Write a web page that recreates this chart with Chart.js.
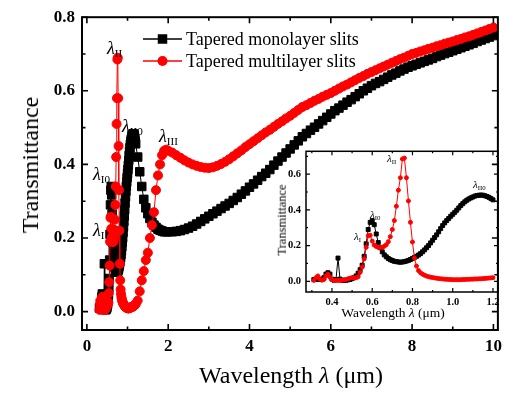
<!DOCTYPE html>
<html lang="en">
<head>
<meta charset="UTF-8">
<title>Transmittance of tapered slits</title>
<script src="https://cdn.jsdelivr.net/npm/chart.js"></script>
<style>
  html, body { margin: 0; padding: 0; background: #fff; }
  #wrap { position: relative; width: 508px; height: 394px; overflow: hidden; font-family: "Liberation Serif", "Times New Roman", serif; color: #000; }
  canvas { position: absolute; }
  #main { left: 0; top: 0; }
  #inset { left: 270px; top: 140px; }
  .t { position: absolute; white-space: nowrap; line-height: 1; }
  .rot { transform: translate(-50%, -50%) rotate(-90deg); }
  .lab { position: absolute; white-space: nowrap; line-height: 1; font-size: 18px; }
  .lab i { font-style: italic; }
  .lab .s { font-size: 0.62em; vertical-align: -0.25em; }
  .small { font-size: 11px; }
</style>
</head>
<body>
<div id="wrap">
  <canvas id="main" width="508" height="394"></canvas>
  <canvas id="inset" width="238" height="185"></canvas>

  <div class="t rot" style="left:30px;top:165px;font-size:24px;">Transmittance</div>
  <div class="t" style="left:291px;top:363px;font-size:24px;transform:translateX(-50%);">Wavelength <i>λ</i> (μm)</div>
  <div class="t rot" style="left:282px;top:220px;font-size:12.5px;">Transmittance</div>
  <div class="t" style="left:393px;top:306px;font-size:13.5px;transform:translateX(-50%);">Wavelength <i>λ</i> (μm)</div>

  <!-- peak labels, main plot -->
  <div class="lab" style="left:107px;top:39px;"><i>λ</i><span class="s">II</span></div>
  <div class="lab" style="left:122px;top:117px;"><i>λ</i><span class="s">II0</span></div>
  <div class="lab" style="left:159px;top:127px;"><i>λ</i><span class="s">III</span></div>
  <div class="lab" style="left:93px;top:165px;"><i>λ</i><span class="s">I0</span></div>
  <div class="lab" style="left:93px;top:221px;"><i>λ</i><span class="s">I</span></div>

  <!-- peak labels, inset -->
  <div class="lab small" style="left:387px;top:153px;"><i>λ</i><span class="s">II</span></div>
  <div class="lab small" style="left:370px;top:209px;"><i>λ</i><span class="s">I0</span></div>
  <div class="lab small" style="left:354px;top:231px;"><i>λ</i><span class="s">I</span></div>
  <div class="lab small" style="left:473px;top:179px;"><i>λ</i><span class="s">II0</span></div>
</div>

<script>
// wavelength grid (um)
const wavelength = [
  0.31, 0.32, 0.33, 0.34, 0.35, 0.36, 0.37, 0.38, 0.39, 0.40,
  0.41, 0.42, 0.43, 0.44, 0.45, 0.46, 0.47, 0.48, 0.49, 0.50,
  0.51, 0.52, 0.53, 0.54, 0.55, 0.56, 0.57, 0.58, 0.59, 0.60,
  0.61, 0.62, 0.63, 0.64, 0.65, 0.66, 0.67, 0.68, 0.69, 0.70,
  0.71, 0.72, 0.73, 0.74, 0.75, 0.76, 0.77, 0.78, 0.79, 0.80,
  0.81, 0.82, 0.83, 0.84, 0.85, 0.86, 0.87, 0.88, 0.89, 0.90,
  0.91, 0.92, 0.93, 0.94, 0.95, 0.96, 0.97, 0.98, 0.99, 1.00,
  1.01, 1.02, 1.03, 1.04, 1.05, 1.06, 1.07, 1.08, 1.09, 1.10,
  1.11, 1.12, 1.13, 1.14, 1.15, 1.16, 1.17, 1.18, 1.19, 1.20,
  1.25, 1.30, 1.35, 1.40, 1.45, 1.50, 1.55, 1.60,
  1.65, 1.70, 1.75, 1.80, 1.85, 1.90, 1.95, 2.00,
  2.1, 2.2, 2.3, 2.4, 2.5, 2.6, 2.7, 2.8, 2.9, 3.0,
  3.1, 3.2, 3.3, 3.4, 3.5, 3.6, 3.7, 3.8, 3.9, 4.0,
  4.1, 4.2, 4.3, 4.4, 4.5, 4.6, 4.7, 4.8, 4.9, 5.0,
  5.1, 5.2, 5.3, 5.4, 5.5, 5.6, 5.7, 5.8, 5.9, 6.0,
  6.1, 6.2, 6.3, 6.4, 6.5, 6.6, 6.7, 6.8, 6.9, 7.0,
  7.1, 7.2, 7.3, 7.4, 7.5, 7.6, 7.7, 7.8, 7.9, 8.0,
  8.1, 8.2, 8.3, 8.4, 8.5, 8.6, 8.7, 8.8, 8.9, 9.0,
  9.1, 9.2, 9.3, 9.4, 9.5, 9.6, 9.7, 9.8, 9.9, 10.0
];

// tapered monolayer slits
const monoT = [
  .010, .010, .010, .010, .012, .020, .040, .048, .040, .012,
  .006, .010, .130, .012, .006, .005, .006, .008, .010, .015,
  .020, .030, .045, .065, .090, .140, .210, .290, .330, .340,
  .317, .265, .217, .188, .165, .148, .137, .128, .121, .116,
  .112, .110, .108, .107, .108, .110, .113, .117, .122, .128,
  .134, .140, .147, .155, .165, .176, .188, .200, .215, .230,
  .245, .260, .277, .295, .312, .327, .340, .352, .364, .375,
  .386, .398, .411, .424, .435, .445, .454, .461, .467, .472,
  .477, .480, .482, .483, .482, .479, .475, .470, .463, .456,
  .420, .380, .340, .305, .282, .266, .253, .243,
  .235, .229, .224, .221, .219, .217, .217, .217,
  .217, .218, .220, .223, .227, .232, .238, .245, .252, .259,
  .266, .273, .280, .287, .294, .302, .310, .319, .328, .338,
  .347, .357, .367, .376, .386, .398, .409, .420, .431, .442,
  .453, .464, .475, .484, .493, .501, .510, .519, .528, .537,
  .546, .553, .561, .569, .576, .584, .592, .600, .607, .614,
  .620, .625, .631, .637, .643, .648, .654, .659, .664, .668,
  .672, .676, .680, .684, .688, .693, .697, .701, .705, .709,
  .713, .717, .721, .725, .729, .734, .738, .742, .746, .750
];

// tapered multilayer slits
const multiT = [
  .005, .020, .030, .012, .006, .010, .030, .040, .022, .010,
  .006, .005, .005, .005, .006, .008, .010, .014, .018, .020,
  .020, .020, .025, .050, .080, .125, .190, .255, .258, .225,
  .203, .195, .190, .189, .190, .196, .205, .222, .250, .290,
  .340, .420, .510, .580, .685, .690, .580, .450, .330, .220,
  .130, .085, .060, .048, .040, .034, .029, .026, .023, .021,
  .019, .017, .015, .014, .013, .012, .011, .010, .010, .009,
  .009, .009, .009, .009, .010, .010, .011, .011, .012, .012,
  .013, .013, .014, .014, .015, .016, .017, .018, .019, .020,
  .030, .055, .085, .110, .140, .160, .200, .235,
  .270, .330, .370, .400, .425, .437, .440, .437,
  .432, .425, .418, .411, .405, .400, .396, .393, .391, .390,
  .392, .396, .401, .407, .414, .422, .430, .438, .447, .455,
  .463, .471, .479, .487, .494, .502, .510, .517, .525, .532,
  .540, .548, .556, .561, .567, .573, .578, .584, .589, .594,
  .600, .606, .612, .617, .623, .629, .635, .640, .646, .651,
  .656, .661, .666, .671, .676, .681, .686, .690, .695, .700,
  .703, .707, .710, .714, .717, .721, .724, .728, .731, .734,
  .738, .741, .745, .748, .752, .756, .760, .764, .768, .772
];

const seriesNames = ['Tapered monolayer slits', 'Tapered multilayer slits'];

// main axes ticks
const mainXTicks = [0, 2, 4, 6, 8, 10];
const mainXMinor = [1, 3, 5, 7, 9];
const mainYTicks = [0, 0.2, 0.4, 0.6, 0.8];
const mainYMinor = [0.1, 0.3, 0.5, 0.7];
// inset axes ticks
const insetXTicks = [0.4, 0.6, 0.8, 1.0, 1.2];
const insetXMinor = [0.3, 0.5, 0.7, 0.9, 1.1];
const insetYTicks = [0, 0.2, 0.4, 0.6];
const insetYMinor = [0.1, 0.3, 0.5, 0.7];

const pts = ys => wavelength.map((w, i) => ({ x: w, y: ys[i] }));
const serif = '"Liberation Serif", "Times New Roman", serif';

// box frame with inward ticks on all four sides
const frameTicks = {
  id: 'frameTicks',
  afterDraw(chart, args, o) {
    const { ctx, chartArea: a } = chart;
    const xs = chart.scales.x, ys = chart.scales.y;
    ctx.save();
    ctx.strokeStyle = '#000';
    ctx.lineWidth = o.lineWidth;
    ctx.strokeRect(a.left, a.top, a.right - a.left, a.bottom - a.top);
    ctx.lineWidth = o.tickWidth;
    ctx.beginPath();
    [[o.xMajor, o.major], [o.xMinor, o.minor]].forEach(([vals, len]) => vals.forEach(v => {
      const p = xs.getPixelForValue(v);
      ctx.moveTo(p, a.bottom); ctx.lineTo(p, a.bottom - len);
      ctx.moveTo(p, a.top); ctx.lineTo(p, a.top + len);
    }));
    [[o.yMajor, o.major], [o.yMinor, o.minor]].forEach(([vals, len]) => vals.forEach(v => {
      const p = ys.getPixelForValue(v);
      ctx.moveTo(a.left, p); ctx.lineTo(a.left + len, p);
      ctx.moveTo(a.right, p); ctx.lineTo(a.right - len, p);
    }));
    ctx.stroke();
    ctx.restore();
  }
};

// legend drawn inside the plot area
const insideLegend = {
  id: 'insideLegend',
  afterDraw(chart, args, o) {
    if (!o.rows) return;
    const ctx = chart.ctx;
    ctx.save();
    chart.data.datasets.forEach((ds, i) => {
      const y = o.rows[i];
      const cx = (o.x0 + o.x1) / 2;
      ctx.strokeStyle = ds.borderColor;
      ctx.fillStyle = ds.backgroundColor;
      ctx.lineWidth = 1.5;
      ctx.beginPath();
      ctx.moveTo(o.x0, y); ctx.lineTo(o.x1, y);
      ctx.stroke();
      ctx.beginPath();
      if (ds.pointStyle === 'rect') {
        const h = ds.pointRadius * Math.SQRT1_2 + 0.5;
        ctx.rect(cx - h, y - h, 2 * h, 2 * h);
      } else {
        ctx.arc(cx, y, ds.pointRadius + 0.5, 0, Math.PI * 2);
      }
      ctx.fill();
      ctx.fillStyle = '#000';
      ctx.font = '18px ' + serif;
      ctx.textBaseline = 'middle';
      ctx.fillText(ds.label, o.tx, y + 1);
    });
    ctx.restore();
  }
};

function makeChart(id, cfg) {
  const tickFont = { family: serif, size: cfg.fontSize, weight: 'bold' };
  return new Chart(document.getElementById(id), {
    type: 'line',
    data: {
      datasets: [
        { label: seriesNames[0], data: cfg.mono, borderColor: '#000000', backgroundColor: '#000000',
          pointStyle: 'rect', pointRadius: cfg.sq, pointBorderWidth: 1, borderWidth: 1, order: 1 },
        { label: seriesNames[1], data: cfg.multi, borderColor: '#ff0000', backgroundColor: '#ff0000',
          pointStyle: 'circle', pointRadius: cfg.dot, pointBorderWidth: 1, borderWidth: 1, order: 0 }
      ]
    },
    options: {
      responsive: false,
      animation: false,
      layout: { padding: cfg.padding },
      scales: {
        x: {
          type: 'linear', min: cfg.xMin, max: cfg.xMax,
          afterBuildTicks: s => { s.ticks = cfg.xTicks.map(v => ({ value: v })); },
          afterFit: s => { s.height = cfg.xHeight; },
          grid: { display: false, drawTicks: false },
          border: { display: false },
          ticks: { font: tickFont, color: '#000', padding: cfg.xPad, maxRotation: 0,
                   callback: v => cfg.xFmt(v) }
        },
        y: {
          type: 'linear', min: cfg.yMin, max: cfg.yMax,
          afterBuildTicks: s => { s.ticks = cfg.yTicks.map(v => ({ value: v })); },
          afterFit: s => { s.width = cfg.yWidth; },
          grid: { display: false, drawTicks: false },
          border: { display: false },
          ticks: { font: tickFont, color: '#000', padding: cfg.yPad,
                   callback: v => v.toFixed(1) }
        }
      },
      plugins: {
        legend: { display: false },
        tooltip: { enabled: false },
        frameTicks: {
          lineWidth: cfg.frame, tickWidth: cfg.frame * 0.8,
          major: cfg.major, minor: cfg.minor,
          xMajor: cfg.xTicks, xMinor: cfg.xMinor, yMajor: cfg.yTicks, yMinor: cfg.yMinor
        },
        insideLegend: cfg.legend || {}
      }
    },
    plugins: [frameTicks, insideLegend]
  });
}

makeChart('main', {
  mono: pts(monoT), multi: pts(multiT), sq: 6, dot: 4.5,
  padding: { left: 42, right: 8, top: 17, bottom: 6 },
  xMin: -0.12, xMax: 10.11, yMin: -0.05, yMax: 0.8,
  xTicks: mainXTicks, xMinor: mainXMinor, yTicks: mainYTicks, yMinor: mainYMinor,
  xFmt: v => String(v), fontSize: 17, xHeight: 58, yWidth: 40, xPad: 6, yPad: 7,
  frame: 2, major: 6, minor: 3.5,
  legend: { rows: [39, 61], x0: 143, x1: 182, tx: 186 }
});

makeChart('inset', {
  mono: pts(monoT).filter(p => p.x <= 1.2), multi: pts(multiT).filter(p => p.x <= 1.2), sq: 2.8, dot: 2,
  padding: { left: 16, right: 10, top: 7.5, bottom: 6 },
  xMin: 0.271, xMax: 1.225, yMin: -0.06, yMax: 0.728,
  xTicks: insetXTicks, xMinor: insetXMinor, yTicks: insetYTicks, yMinor: insetYMinor,
  xFmt: v => v.toFixed(1), fontSize: 10.5, xHeight: 27, yWidth: 20, xPad: 4, yPad: 5,
  frame: 1.5, major: 4, minor: 2
});
</script>
</body>
</html>
